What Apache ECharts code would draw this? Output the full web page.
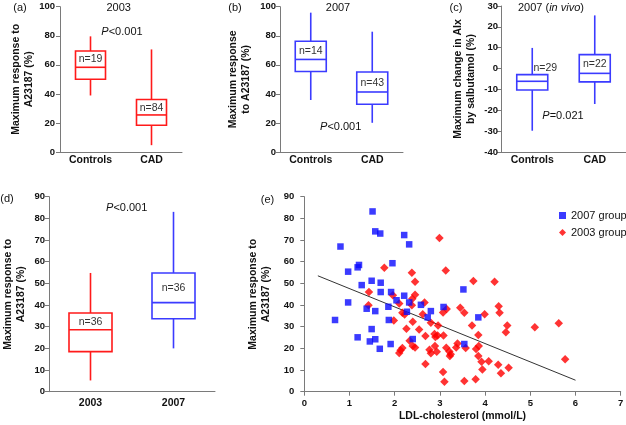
<!DOCTYPE html>
<html><head><meta charset="utf-8">
<script src="https://cdn.jsdelivr.net/npm/echarts@6/dist/echarts.min.js"></script>
<style>html,body{margin:0;padding:0;background:#fff}#c{width:626px;height:425px}</style>
</head><body><div id="c"></div>
<script>
const FONT = '"Liberation Sans", Arial, Helvetica, sans-serif';

// (a) 2003 : [min, Q1, median, Q3, max]
const aCats = ['Controls', 'CAD'];
const aBox = [[38.9, 50.1, 58.3, 69.5, 79.6], [4.7, 18.4, 25.5, 36.1, 70.6]];
const aN = ['n=19', 'n=84'];
// (b) 2007
const bCats = ['Controls', 'CAD'];
const bBox = [[35.8, 55.4, 63.7, 76.2, 95.9], [20.1, 32.9, 41.3, 55.1, 82.8]];
const bN = ['n=14', 'n=43'];
// (c) 2007 in vivo
const cCats = ['Controls', 'CAD'];
const cBox = [[-29.8, -10.3, -6.1, -2.9, 9.9], [-17, -6.4, -2.3, 6.7, 25.5]];
const cN = ['n=29', 'n=22'];
// (d) 2003 vs 2007
const dCats = ['2003', '2007'];
const dBox = [[5.2, 18.5, 28.6, 36.3, 54.8], [20, 33.7, 41.1, 54.8, 83]];
const dN = ['n=36', 'n=36'];

// (e) scatter: [LDL-cholesterol, maximum response]
const g2007 = [[0.80,67],[1.51,83.2],[1.57,74],[1.68,73],[2.21,72.3],[2.32,68],[1.21,58.5],[1.18,57.4],
  [0.97,55.4],[1.95,59.3],[1.27,49.2],[1.49,51.2],[1.69,50.3],[1.69,46],[1.92,46],[2.21,44.3],[2.04,42.2],
  [2.32,41.2],[2.58,40.1],[0.97,41.2],[1.86,39.2],[1.38,38.3],[1.57,37.2],[2.27,36.9],[2.80,37.2],[2.73,34.3],
  [0.68,33.1],[1.87,33.1],[1.49,28.9],[1.18,25.1],[1.45,23.2],[1.57,24.2],[1.67,19.8],[1.91,22],[2.40,24.3],
  [3.08,39.1],[3.52,47.2],[3.85,34.3],[3.54,22]];
const g2003 = [[2.99,70.9],[1.77,57.2],[2.38,54.9],[3.13,55.9],[2.45,50.8],[3.74,51.1],[4.21,50.8],[1.43,46],
  [1.96,44.5],[2.45,44.7],[2.39,42.9],[2.66,41.2],[1.42,39.9],[2.10,40.7],[2.38,39.9],[3.15,38.2],[3.07,36.5],
  [3.45,38.8],[3.54,36.4],[3.99,35.7],[4.30,39.4],[4.32,36.4],[2.17,36.4],[2.22,35.6],[2.62,35.7],[1.98,32.9],
  [2.40,32.3],[2.80,31.8],[2.96,30.5],[3.71,30.5],[4.49,30.5],[5.10,29.8],[5.63,31.6],[2.26,29.1],[2.54,28.7],
  [4.46,27.4],[3.85,26.2],[2.88,26.6],[2.95,25.9],[3.08,25.9],[2.68,25.7],[2.90,25.3],[2.33,23.5],[3.39,22.2],
  [3.36,20.4],[2.40,21.1],[2.45,20.4],[2.89,21.1],[2.77,19.4],[2.80,17.8],[2.93,18.4],[3.14,20.3],[3.21,18.5],
  [3.24,17.3],[3.22,16.5],[3.57,20.2],[3.80,19.7],[3.86,21.1],[3.85,16.5],[3.92,13.8],[4.08,14.1],[3.94,10.3],
  [4.29,12.4],[4.35,8.5],[4.52,11],[5.77,15],[3.07,9.1],[3.10,4.6],[3.54,4.9],[3.79,5.7],[2.68,12.8],
  [2.10,17.9],[2.13,19.1],[2.17,20.2]];
const trendX = [0.3, 6.0];
const trendY = [53.5, 5.3];

const RED = '#ff1a1a', BLUE = '#3b3bff';
const chart = echarts.init(document.getElementById('c'), null, {renderer: 'canvas'});

const grids = [
  {left: 60, top: 6.7, width: 122, height: 145.3},
  {left: 280, top: 6.7, width: 123, height: 145.3},
  {left: 501, top: 6, width: 125, height: 146},
  {left: 49, top: 196.7, width: 166, height: 195},
  {left: 304.3, top: 196.7, width: 316.4, height: 195}
].map(g => Object.assign({outerBoundsMode: 'none', containLabel: false}, g));

const axisLine = {show: true, onZero: false, lineStyle: {color: '#7a7a7a', width: 1}};
const tickLbl = {fontSize: 9.5, fontWeight: 'bold', color: '#111', fontFamily: FONT};
const nameStyle = {fontSize: 10.5, fontWeight: 'bold', color: '#111', fontFamily: FONT, lineHeight: 13};

function catX(gi, cats, margin) {
  return {type: 'category', gridIndex: gi, data: cats, boundaryGap: true, axisLine,
    axisTick: {show: false}, splitLine: {show: false},
    axisLabel: {fontSize: 10.5, fontWeight: 'bold', color: '#111', fontFamily: FONT, margin, interval: 0}};
}
function valY(gi, min, max, interval, name, nameGap, margin) {
  return {type: 'value', gridIndex: gi, min, max, interval, name, nameLocation: 'middle', nameGap,
    nameTextStyle: nameStyle, axisLine, axisTick: {show: true, length: 4, lineStyle: {color: '#7a7a7a'}},
    splitLine: {show: false}, axisLabel: Object.assign({margin}, tickLbl)};
}

function boxSeries(gi, box, ns, colors, bw, offs) {
  return {
    type: 'custom', xAxisIndex: gi, yAxisIndex: gi, silent: true,
    data: box.map((b, i) => [i].concat(b)),
    encode: {x: 0, y: [1, 2, 3, 4, 5]},
    renderItem: function (params, api) {
      const i = params.dataIndex;
      const col = colors[i];
      const xv = api.value(0);
      const pMin = api.coord([xv, api.value(1)]);
      const pQ1 = api.coord([xv, api.value(2)]);
      const pMed = api.coord([xv, api.value(3)]);
      const pQ3 = api.coord([xv, api.value(4)]);
      const pMax = api.coord([xv, api.value(5)]);
      const cx = pMin[0], hw = bw / 2;
      const st = {stroke: col, lineWidth: 1.6, fill: null};
      return {type: 'group', children: [
        {type: 'line', shape: {x1: cx, y1: pMax[1], x2: cx, y2: pQ3[1]}, style: st},
        {type: 'line', shape: {x1: cx, y1: pQ1[1], x2: cx, y2: pMin[1]}, style: st},
        {type: 'rect', shape: {x: cx - hw, y: pQ3[1], width: bw, height: pQ1[1] - pQ3[1]}, style: st},
        {type: 'line', shape: {x1: cx - hw, y1: pMed[1], x2: cx + hw, y2: pMed[1]}, style: st},
        {type: 'text', x: cx + offs[i][0], y: pQ3[1] + offs[i][1],
          style: {text: ns[i], fill: '#333', fontSize: 10.5, fontFamily: FONT,
            align: 'center', verticalAlign: 'middle', textAlign: 'center', textVerticalAlign: 'middle'}}
      ]};
    }
  };
}

function txt(x, y, text, extra) {
  return {type: 'text', x, y, silent: true,
    style: Object.assign({text, fill: '#111', fontSize: 11, fontFamily: FONT,
      align: 'center', verticalAlign: 'middle', textAlign: 'center', textVerticalAlign: 'middle',
      rich: {i: {fontStyle: 'italic', fontSize: 11, fontFamily: FONT, fill: '#111'}}}, extra || {})};
}

const option = {
  animation: false,
  backgroundColor: '#fff',
  textStyle: {fontFamily: FONT},
  grid: grids,
  xAxis: [
    catX(0, aCats, 3),
    catX(1, bCats, 3),
    catX(2, cCats, 3),
    catX(3, dCats, 5.5),
    {type: 'value', gridIndex: 4, min: 0, max: 7, interval: 1, axisLine,
      axisTick: {show: true, length: 4, lineStyle: {color: '#7a7a7a'}}, splitLine: {show: false},
      axisLabel: Object.assign({margin: 7}, tickLbl),
      name: 'LDL-cholesterol (mmol/L)', nameLocation: 'middle', nameGap: 18, nameTextStyle: nameStyle}
  ],
  yAxis: [
    valY(0, 0, 100, 20, 'Maximum response to\nA23187 (%)', 22, 5),
    valY(1, 0, 100, 20, 'Maximum response\nto A23187 (%)', 27, 4),
    valY(2, -40, 30, 10, 'Maximum change in AIx\nby salbutamol (%)', 23.5, 3),
    valY(3, 0, 90, 10, 'Maximum response to\nA23187 (%)', 21.5, 4),
    valY(4, 0, 90, 10, 'Maximum response to\nA23187 (%)', 18, 10)
  ],
  legend: {
    left: 554, top: 205, orient: 'vertical', itemWidth: 7, itemHeight: 7, itemGap: 6,
    data: ['2007 group', '2003 group'],
    textStyle: {fontSize: 11, color: '#111', fontFamily: FONT}
  },
  series: [
    boxSeries(0, aBox, aN, [RED, RED], 30, [[0, 8], [0, 8.4]]),
    boxSeries(1, bBox, bN, [BLUE, BLUE], 31, [[0, 9.7], [0, 10.7]]),
    boxSeries(2, cBox, cN, [BLUE, BLUE], 31, [[13, -6.3], [0, 9.4]]),
    boxSeries(3, dBox, dN, [RED, BLUE], 43, [[0, 9], [0, 15]]),
    {type: 'line', xAxisIndex: 4, yAxisIndex: 4, silent: true, showSymbol: false, symbol: 'none',
      data: trendX.map((x, i) => [x, trendY[i]]), lineStyle: {color: '#333', width: 1}, z: 1},
    {name: '2007 group', type: 'scatter', xAxisIndex: 4, yAxisIndex: 4, symbol: 'rect', symbolSize: 6.5,
      itemStyle: {color: '#0a0aff'}, data: g2007, z: 3},
    {name: '2003 group', type: 'scatter', xAxisIndex: 4, yAxisIndex: 4, symbol: 'diamond', symbolSize: 8.5,
      itemStyle: {color: '#ff0000'}, data: g2003, z: 2}
  ],
  graphic: [
    txt(20, 8, '(a)'),
    txt(235, 8, '(b)'),
    txt(456, 8, '(c)'),
    txt(7, 199, '(d)'),
    txt(267.5, 200, '(e)'),
    txt(118.7, 7.5, '2003'),
    txt(338, 7.5, '2007'),
    txt(551, 8, '2007 ({i|in vivo})'),
    txt(122, 31.7, '{i|P}<0.001'),
    txt(340.7, 127, '{i|P}<0.001'),
    txt(563, 115.7, '{i|P}=0.021'),
    txt(126.7, 208, '{i|P}<0.001')
  ]
};
chart.setOption(option);
</script>
</body></html>
